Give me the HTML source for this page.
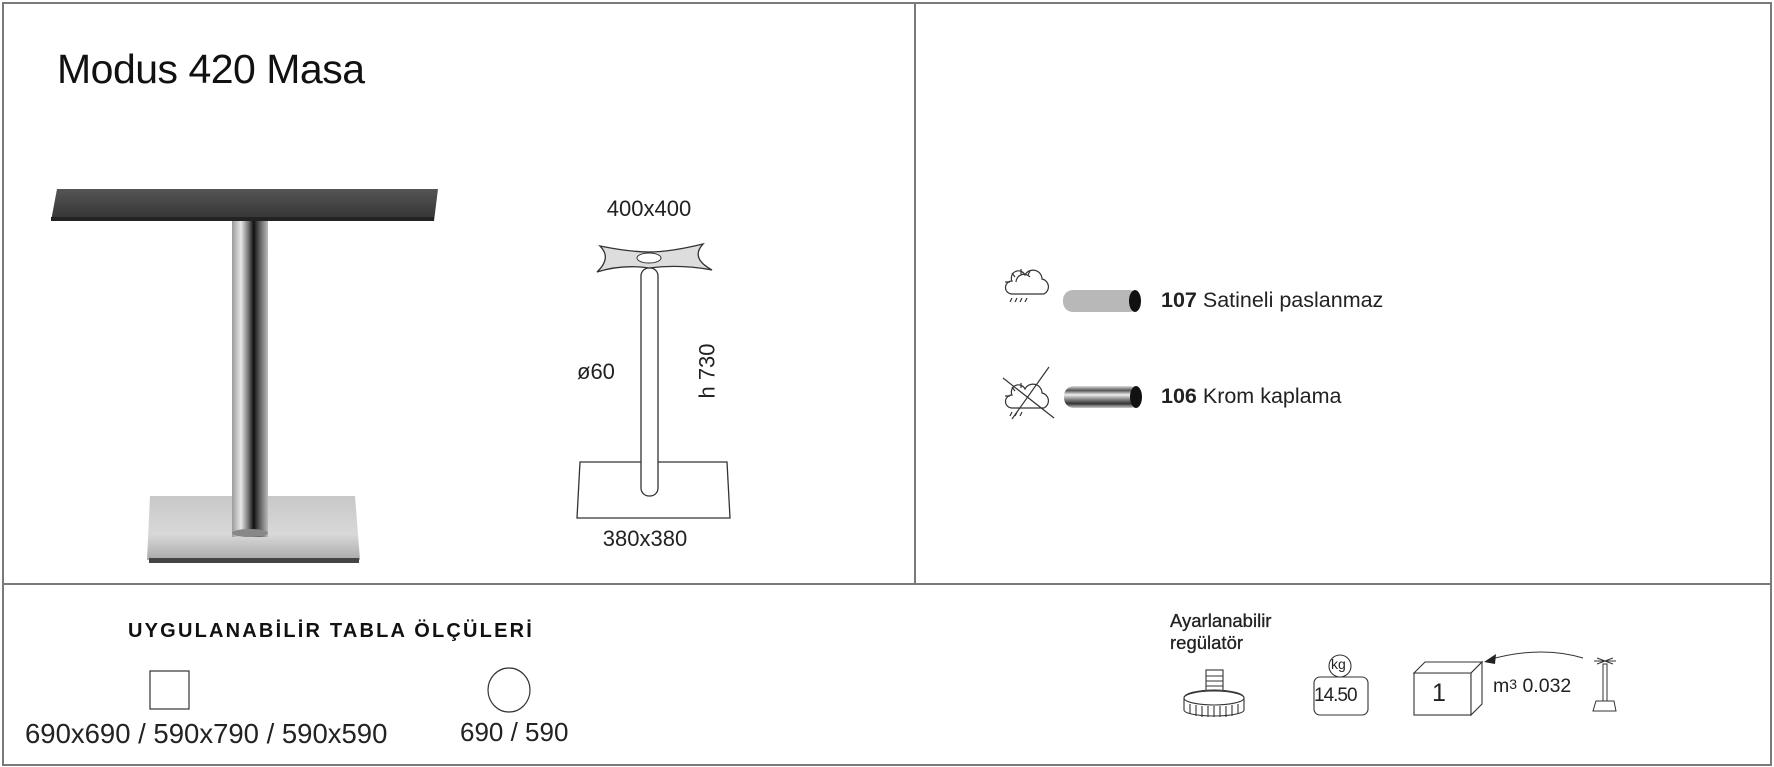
<!DOCTYPE html>
<html><head><meta charset="utf-8"><style>
html,body{margin:0;padding:0;background:#fff}
body{width:1774px;height:767px;position:relative;overflow:hidden;font-family:"Liberation Sans",sans-serif;color:#222}
.t{position:absolute;white-space:nowrap}
</style></head><body>
<svg width="1774" height="767" style="position:absolute;left:0;top:0" xmlns="http://www.w3.org/2000/svg">
<defs>
<linearGradient id="pole" x1="0" x2="1">
<stop offset="0" stop-color="#9a9a9a"/><stop offset="0.25" stop-color="#e8e8e8"/><stop offset="0.45" stop-color="#777"/><stop offset="0.6" stop-color="#111"/><stop offset="0.75" stop-color="#555"/><stop offset="1" stop-color="#bbb"/>
</linearGradient>
<linearGradient id="base" x1="0" y1="0" x2="0" y2="1">
<stop offset="0" stop-color="#c8c8c8"/><stop offset="0.6" stop-color="#d8d8d8"/><stop offset="1" stop-color="#aaa"/>
</linearGradient>
<linearGradient id="top" x1="0" y1="0" x2="0" y2="1">
<stop offset="0" stop-color="#555"/><stop offset="1" stop-color="#333"/>
</linearGradient>
<linearGradient id="chrome" x1="0" y1="0" x2="0" y2="1">
<stop offset="0" stop-color="#ddd"/><stop offset="0.2" stop-color="#555"/><stop offset="0.4" stop-color="#eee"/><stop offset="0.6" stop-color="#888"/><stop offset="0.8" stop-color="#333"/><stop offset="1" stop-color="#ccc"/>
</linearGradient>
</defs>
<rect x="3" y="3" width="1768" height="762" fill="none" stroke="#7a7a7a" stroke-width="2"/>
<line x1="915" y1="3" x2="915" y2="584" stroke="#7a7a7a" stroke-width="2"/>
<line x1="3" y1="584" x2="1771" y2="584" stroke="#7a7a7a" stroke-width="2"/>
<polygon points="57,189 438,189 434,221 51,221" fill="url(#top)"/>
<rect x="51" y="217" width="383" height="4" fill="#222"/>
<polygon points="150,496 355,496 360,560 147,560" fill="url(#base)"/>
<rect x="149" y="558" width="210" height="5" fill="#444"/>
<rect x="232" y="221" width="36" height="316" fill="url(#pole)"/>
<ellipse cx="250" cy="533" rx="18" ry="4" fill="#888"/>
<polygon points="580,462 727,462 730,518 577,518" fill="#fff" stroke="#333" stroke-width="1.3"/>
<rect x="641" y="268" width="17" height="228" rx="8" fill="#fff" stroke="#333" stroke-width="1.3"/>
<path d="M600,246 Q630,252 649,252 Q670,252 703,244 Q690,258 712,270 Q680,264 649,268 Q622,264 597,272 Q612,258 600,246Z" fill="#ddd" stroke="#333" stroke-width="1.3"/>
<ellipse cx="649" cy="258" rx="12" ry="5" fill="#fff" stroke="#333"/>
<g stroke="#333" stroke-width="1.2" fill="none">
<path d="M1012,294 h32 a8,8 0 0 0 -2,-15 a9,9 0 0 0 -17,-4 a7,7 0 0 0 -13,6 a6,6 0 0 0 0,13Z"/>
<path d="M1016,282 a8,8 0 0 1 14,-5"/>
<line x1="1021" y1="269" x2="1021" y2="274"/><line x1="1012" y1="273" x2="1015" y2="277"/><line x1="1005" y1="282" x2="1010" y2="282"/><line x1="1030" y1="271" x2="1028" y2="275"/>
<line x1="1012" y1="298" x2="1010" y2="302"/><line x1="1017" y1="298" x2="1015" y2="302"/><line x1="1022" y1="298" x2="1020" y2="302"/><line x1="1027" y1="298" x2="1025" y2="302"/>
<path d="M1012,408 h32 a8,8 0 0 0 -2,-15 a9,9 0 0 0 -17,-4 a7,7 0 0 0 -13,6 a6,6 0 0 0 0,13Z"/>
<line x1="1021" y1="383" x2="1021" y2="388"/><line x1="1012" y1="387" x2="1015" y2="391"/><line x1="1005" y1="396" x2="1010" y2="396"/>
<line x1="1012" y1="412" x2="1010" y2="416"/><line x1="1017" y1="412" x2="1015" y2="416"/><line x1="1022" y1="412" x2="1020" y2="416"/>
<line x1="1003" y1="378" x2="1054" y2="418"/><line x1="1049" y1="367" x2="1012" y2="419"/>
</g>
<rect x="1063" y="290" width="76" height="22" rx="10" fill="#b8b8b8"/>
<ellipse cx="1135" cy="301" rx="6" ry="11" fill="#111"/>
<rect x="1064" y="386" width="76" height="22" rx="10" fill="url(#chrome)"/>
<ellipse cx="1136" cy="397" rx="6" ry="11" fill="#111"/>
<rect x="150" y="671" width="39" height="38" fill="#fff" stroke="#333" stroke-width="1.2"/>
<ellipse cx="509" cy="690" rx="21" ry="22" fill="#fff" stroke="#333" stroke-width="1.2"/>
<g stroke="#333" stroke-width="1.1" fill="#fff">
<rect x="1206" y="670" width="17" height="25"/>
<path d="M1206,676 h17 M1206,681 h17 M1206,686 h17 M1206,691 h17"/>
<path d="M1184,698 a30,8 0 0 1 60,0 v12 a30,6 0 0 1 -60,0Z"/>
<ellipse cx="1214" cy="698" rx="30" ry="7"/>
<path d="M1190,704 v10 M1196,705 v11 M1202,706 v11 M1208,706 v11 M1214,706 v11 M1220,706 v11 M1226,706 v11 M1232,705 v11 M1238,704 v10" fill="none"/>
</g>
<g stroke="#333" stroke-width="1.1" fill="none">
<circle cx="1340" cy="666" r="11"/>
<rect x="1314" y="677" width="54" height="38" rx="6"/>
</g>
<g stroke="#333" stroke-width="1.1" fill="#fff">
<rect x="1414" y="673" width="57" height="42"/>
<polygon points="1414,673 1425,662 1482,662 1471,673"/>
<polygon points="1471,673 1482,662 1482,704 1471,715"/>
</g>
<path d="M1583,658 Q1540,645 1488,660" fill="none" stroke="#333" stroke-width="1"/>
<polygon points="1484,662 1496,654 1495,664" fill="#222"/>
<g stroke="#333" stroke-width="1" fill="#fff">
<path d="M1594,661 h22 M1597,658 l16,6 M1613,658 l-16,6"/>
<rect x="1603" y="664" width="4" height="38"/>
<polygon points="1596,701 1614,701 1616,711 1593,711"/>
</g>
</svg>
<div class="t" style="left:57px;top:46px;font-size:41px;color:#111;letter-spacing:-0.5px">Modus 420 Masa</div>
<div class="t" style="left:649px;top:196px;font-size:22px;transform:translateX(-50%)">400x400</div>
<div class="t" style="left:645px;top:526px;font-size:22px;transform:translateX(-50%)">380x380</div>
<div class="t" style="left:577px;top:359px;font-size:22px">ø60</div>
<div class="t" style="left:680px;top:358px;font-size:22px;transform:rotate(-90deg);transform-origin:center">h 730</div>
<div class="t" style="left:1161px;top:288px;font-size:21.5px"><b>107</b> Satineli paslanmaz</div>
<div class="t" style="left:1161px;top:384px;font-size:21.5px"><b>106</b> Krom kaplama</div>
<div class="t" style="left:128px;top:620px;font-size:20px;font-weight:bold;letter-spacing:2.2px;color:#111">UYGULANABİLİR TABLA ÖLÇÜLERİ</div>
<div class="t" style="left:25px;top:718px;font-size:27.5px">690x690 / 590x790 / 590x590</div>
<div class="t" style="left:460px;top:717px;font-size:26px">690 / 590</div>
<div class="t" style="left:1170px;top:610px;font-size:18.5px;line-height:22px;color:#222;-webkit-text-stroke:0.3px #222">Ayarlanabilir<br>regülatör</div>
<div class="t" style="left:1331px;top:656px;font-size:14px">kg</div>
<div class="t" style="left:1314px;top:685px;font-size:19px;letter-spacing:-1px">14.50</div>
<div class="t" style="left:1432px;top:679px;font-size:25px">1</div>
<div class="t" style="left:1493px;top:675px;font-size:19.5px">m<span style="font-size:14px;vertical-align:3px">3</span> 0.032</div>
</body></html>
